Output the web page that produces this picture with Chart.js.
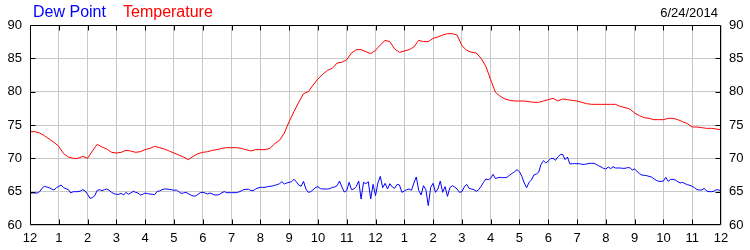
<!DOCTYPE html>
<html>
<head>
<meta charset="utf-8">
<script src="https://cdn.jsdelivr.net/npm/chart.js@4/dist/chart.umd.min.js"></script>
<style>
  html, body { margin: 0; padding: 0; background: #fff; }
  #wrap { position: relative; width: 750px; height: 250px; }
  #c { position: absolute; left: 0; top: 0; }
  .lbl { position: absolute; font-family: "Liberation Sans", Arial, sans-serif; white-space: nowrap; }
</style>
</head>
<body>
<div id="wrap">
  <canvas id="c" width="750" height="250"></canvas>
  <div class="lbl" id="lgDew" style="left:33px; top:4px; font-size:16px; line-height:16px; color:#0000ff;">Dew Point</div>
  <div class="lbl" id="lgTemp" style="left:123px; top:4px; font-size:16px; line-height:16px; color:#ff0000;">Temperature</div>
  <div class="lbl" id="date" style="right:32px; top:6px; font-size:13px; line-height:13px; color:#000;">6/24/2014</div>
</div>
<script>
// ---- data ----
const seriesNames = ['Dew Point', 'Temperature'];
const dateLabel = '6/24/2014';
const hourLabels = ['12','1','2','3','4','5','6','7','8','9','10','11','12','1','2','3','4','5','6','7','8','9','10','11','12'];
const yTicks = [60, 65, 70, 75, 80, 85, 90];

// Temperature, every 10 minutes from midnight to midnight (°F)
const tempStepMin = 10;
const temperature = [
  74.0, 74.0, 73.8, 73.4, 72.9, 72.4, 71.8, 70.7, 70.2, 70.0,
  70.0, 70.3, 70.0, 71.1, 72.1, 71.7, 71.4, 70.9, 70.8, 70.9,
  71.2, 71.1, 70.9, 71.0, 71.3, 71.5, 71.8, 71.6, 71.4, 71.1,
  70.8, 70.5, 70.2, 69.8, 70.3, 70.7, 70.9, 71.0, 71.2, 71.3,
  71.5, 71.6, 71.6, 71.6, 71.5, 71.3, 71.1, 71.3, 71.3, 71.3,
  71.5, 72.2, 72.7, 73.8, 75.5, 77.0, 78.4, 79.7, 80.0, 81.0,
  81.9, 82.6, 83.2, 83.5, 84.3, 84.4, 84.8, 85.8, 86.3, 86.3,
  86.0, 85.7, 86.2, 87.0, 87.7, 87.5, 86.4, 85.9, 86.1, 86.3,
  86.7, 87.7, 87.5, 87.5, 88.0, 88.2, 88.5, 88.7, 88.7, 88.5,
  86.9, 86.2, 85.9, 85.8, 85.0, 83.8, 81.8, 79.9, 79.3, 78.9,
  78.7, 78.6, 78.6, 78.6, 78.5, 78.4, 78.4, 78.6, 78.8, 79.0,
  78.6, 78.9, 78.8, 78.7, 78.6, 78.4, 78.2, 78.1, 78.1, 78.1,
  78.1, 78.1, 78.1, 77.8, 77.6, 77.4, 76.8, 76.4, 76.1, 76.0,
  75.8, 75.8, 75.8, 76.0, 76.0, 75.8, 75.5, 75.2, 74.7, 74.7,
  74.6, 74.5, 74.5, 74.4, 74.3
];

// Dew point, every 5 minutes from midnight to midnight (°F)
const dewStepMin = 5;
const dewPoint = [
  64.8, 64.8, 64.8, 64.8, 65.0, 65.5, 65.8, 65.7, 65.6, 65.4,
  65.25, 65.6, 65.8, 66.0, 65.6, 65.45, 65.3, 64.8, 65.0, 65.0,
  65.0, 65.1, 65.3, 65.1, 64.6, 64.0, 64.1, 64.4, 65.2, 65.3,
  65.15, 65.3, 65.4, 65.2, 64.9, 64.7, 64.6, 64.6, 64.75, 64.5,
  64.9, 64.6, 64.8, 65.05, 64.9, 64.8, 64.5, 64.6, 64.8, 64.7,
  64.65, 64.6, 64.55, 65.05, 65.1, 65.3, 65.4, 65.4, 65.35, 65.3,
  65.2, 65.25, 65.0, 64.75, 64.8, 64.9, 64.7, 64.5, 64.35, 64.35,
  64.6, 64.85, 64.9, 64.8, 64.65, 64.8, 64.65, 64.5, 64.5, 64.6,
  64.85, 65.0, 64.85, 64.85, 64.85, 64.85, 64.85, 64.95, 65.1, 65.3,
  65.35, 65.35, 65.2, 65.15, 65.4, 65.55, 65.65, 65.65, 65.65, 65.75,
  65.8, 65.85, 65.95, 66.05, 66.2, 66.5, 66.15, 66.3, 66.4, 66.5,
  66.85, 66.5, 66.0, 65.8, 66.55, 65.4, 64.9, 65.0, 65.3, 65.6,
  65.75, 65.45, 65.4, 65.4, 65.4, 65.45, 65.65, 65.7, 65.9, 66.6,
  65.7, 64.95, 65.15, 66.4, 65.3, 65.4, 65.8, 66.6, 63.9, 66.4,
  66.2, 66.5, 63.9, 66.1, 64.4, 66.3, 67.3, 65.6, 66.25, 65.4,
  66.2, 65.7, 65.5, 66.1, 66.0, 64.9, 65.1, 65.3, 65.4, 65.2,
  66.3, 67.2, 65.2, 64.5, 65.9, 65.3, 62.9, 65.65, 66.25, 64.9,
  65.4, 66.6, 64.9, 65.75, 64.3, 65.6, 65.9, 65.7, 65.4, 64.9,
  65.0, 65.7, 66.1, 65.5, 65.4, 65.3, 65.05, 65.3, 65.8, 66.4,
  66.9, 66.8, 67.0, 67.6, 66.95, 67.1, 67.15, 67.1, 67.1, 67.2,
  67.5, 67.75, 68.0, 68.3, 68.0, 67.3, 66.3, 65.6, 66.4, 66.75,
  67.5, 67.65, 67.9, 69.1, 69.65, 69.3, 69.6, 69.95, 70.0, 69.7,
  70.2, 70.55, 70.6, 69.8, 70.2, 69.15, 69.2, 69.2, 69.2, 69.2,
  69.1, 69.1, 69.15, 69.25, 69.25, 69.25, 69.1, 68.9, 68.7, 68.5,
  68.4, 68.7, 68.45, 68.75, 68.55, 68.55, 68.55, 68.5, 68.5, 68.6,
  68.6, 68.25, 68.4, 68.05, 67.7, 67.5, 67.45, 67.4, 67.3, 67.2,
  66.95, 66.7, 66.55, 66.55, 66.6, 67.15, 66.55, 66.85, 66.85, 66.75,
  66.5, 66.3, 66.4, 66.2, 66.05, 65.95, 65.8, 65.6, 65.3, 65.25,
  65.25, 65.5, 65.1, 65.0, 65.0, 65.05, 65.3, 65.25, 65.15
];

document.getElementById('lgDew').textContent = seriesNames[0];
document.getElementById('lgTemp').textContent = seriesNames[1];
document.getElementById('date').textContent = dateLabel;

const toPoints = (arr, stepMin) => arr.map((v, i) => ({ x: i * stepMin / 60, y: v }));

const FONT = "'Liberation Sans', Arial, sans-serif";

// frame and inner tick marks, positioned through the chart's own scales
const framePlugin = {
  id: 'frame',
  afterDatasetsDraw(chart) {
    const { ctx, chartArea: a, scales } = chart;
    const xs = scales.x, ys = scales.y;
    ctx.save();
    ctx.strokeStyle = '#000';
    ctx.lineWidth = 1;
    ctx.beginPath();
    const L = a.left + 0.5, R = a.right - 0.5, T = a.top + 0.5, B = a.bottom - 0.5;
    ctx.rect(L, T, R - L, B - T);
    const tl = 5;
    for (let h = 1; h < hourLabels.length - 1; h++) {
      const px = Math.round(xs.getPixelForValue(h)) + 0.5;
      ctx.moveTo(px, T); ctx.lineTo(px, T + tl);
      ctx.moveTo(px, B); ctx.lineTo(px, B - tl);
    }
    for (let k = 1; k < yTicks.length - 1; k++) {
      const py = Math.round(ys.getPixelForValue(yTicks[k])) + 0.5;
      ctx.moveTo(L, py); ctx.lineTo(L + tl, py);
      ctx.moveTo(R, py); ctx.lineTo(R - tl, py);
    }
    ctx.stroke();
    ctx.restore();
  }
};

new Chart(document.getElementById('c'), {
  type: 'line',
  data: {
    datasets: [
      {
        label: seriesNames[1],
        data: toPoints(temperature, tempStepMin),
        borderColor: '#ff0000',
        borderWidth: 1,
        pointRadius: 0,
        tension: 0,
        fill: false
      },
      {
        label: seriesNames[0],
        data: toPoints(dewPoint, dewStepMin),
        borderColor: '#0000ff',
        borderWidth: 1,
        pointRadius: 0,
        tension: 0,
        fill: false
      }
    ]
  },
  options: {
    responsive: false,
    animation: false,
    devicePixelRatio: 1,
    layout: { padding: { top: 25, left: 0, right: 0, bottom: 0 } },
    plugins: { legend: { display: false }, tooltip: { enabled: false }, title: { display: false } },
    scales: {
      x: {
        type: 'linear',
        min: 0,
        max: 24,
        afterFit(s) { s.height = 25; },
        afterBuildTicks(s) { s.ticks = hourLabels.map((_, i) => ({ value: i })); },
        ticks: {
          autoSkip: false,
          maxRotation: 0,
          padding: 6,
          color: '#000',
          font: { family: FONT, size: 13 },
          callback: (v) => hourLabels[v]
        },
        grid: { color: '#c8c8c8', lineWidth: 1, drawTicks: false },
        border: { display: false }
      },
      y: {
        position: 'left',
        min: 60,
        max: 90,
        afterFit(s) { s.width = 30; },
        afterBuildTicks(s) { s.ticks = yTicks.map(v => ({ value: v })); },
        ticks: { padding: 8, color: '#000', font: { family: FONT, size: 13 } },
        grid: { color: '#c8c8c8', lineWidth: 1, drawTicks: false },
        border: { display: false }
      },
      y2: {
        position: 'right',
        min: 60,
        max: 90,
        afterFit(s) { s.width = 29; },
        afterBuildTicks(s) { s.ticks = yTicks.map(v => ({ value: v })); },
        ticks: { padding: 8, color: '#000', font: { family: FONT, size: 13 } },
        grid: { display: false, drawTicks: false },
        border: { display: false }
      }
    }
  },
  plugins: [framePlugin]
});
</script>
</body>
</html>
